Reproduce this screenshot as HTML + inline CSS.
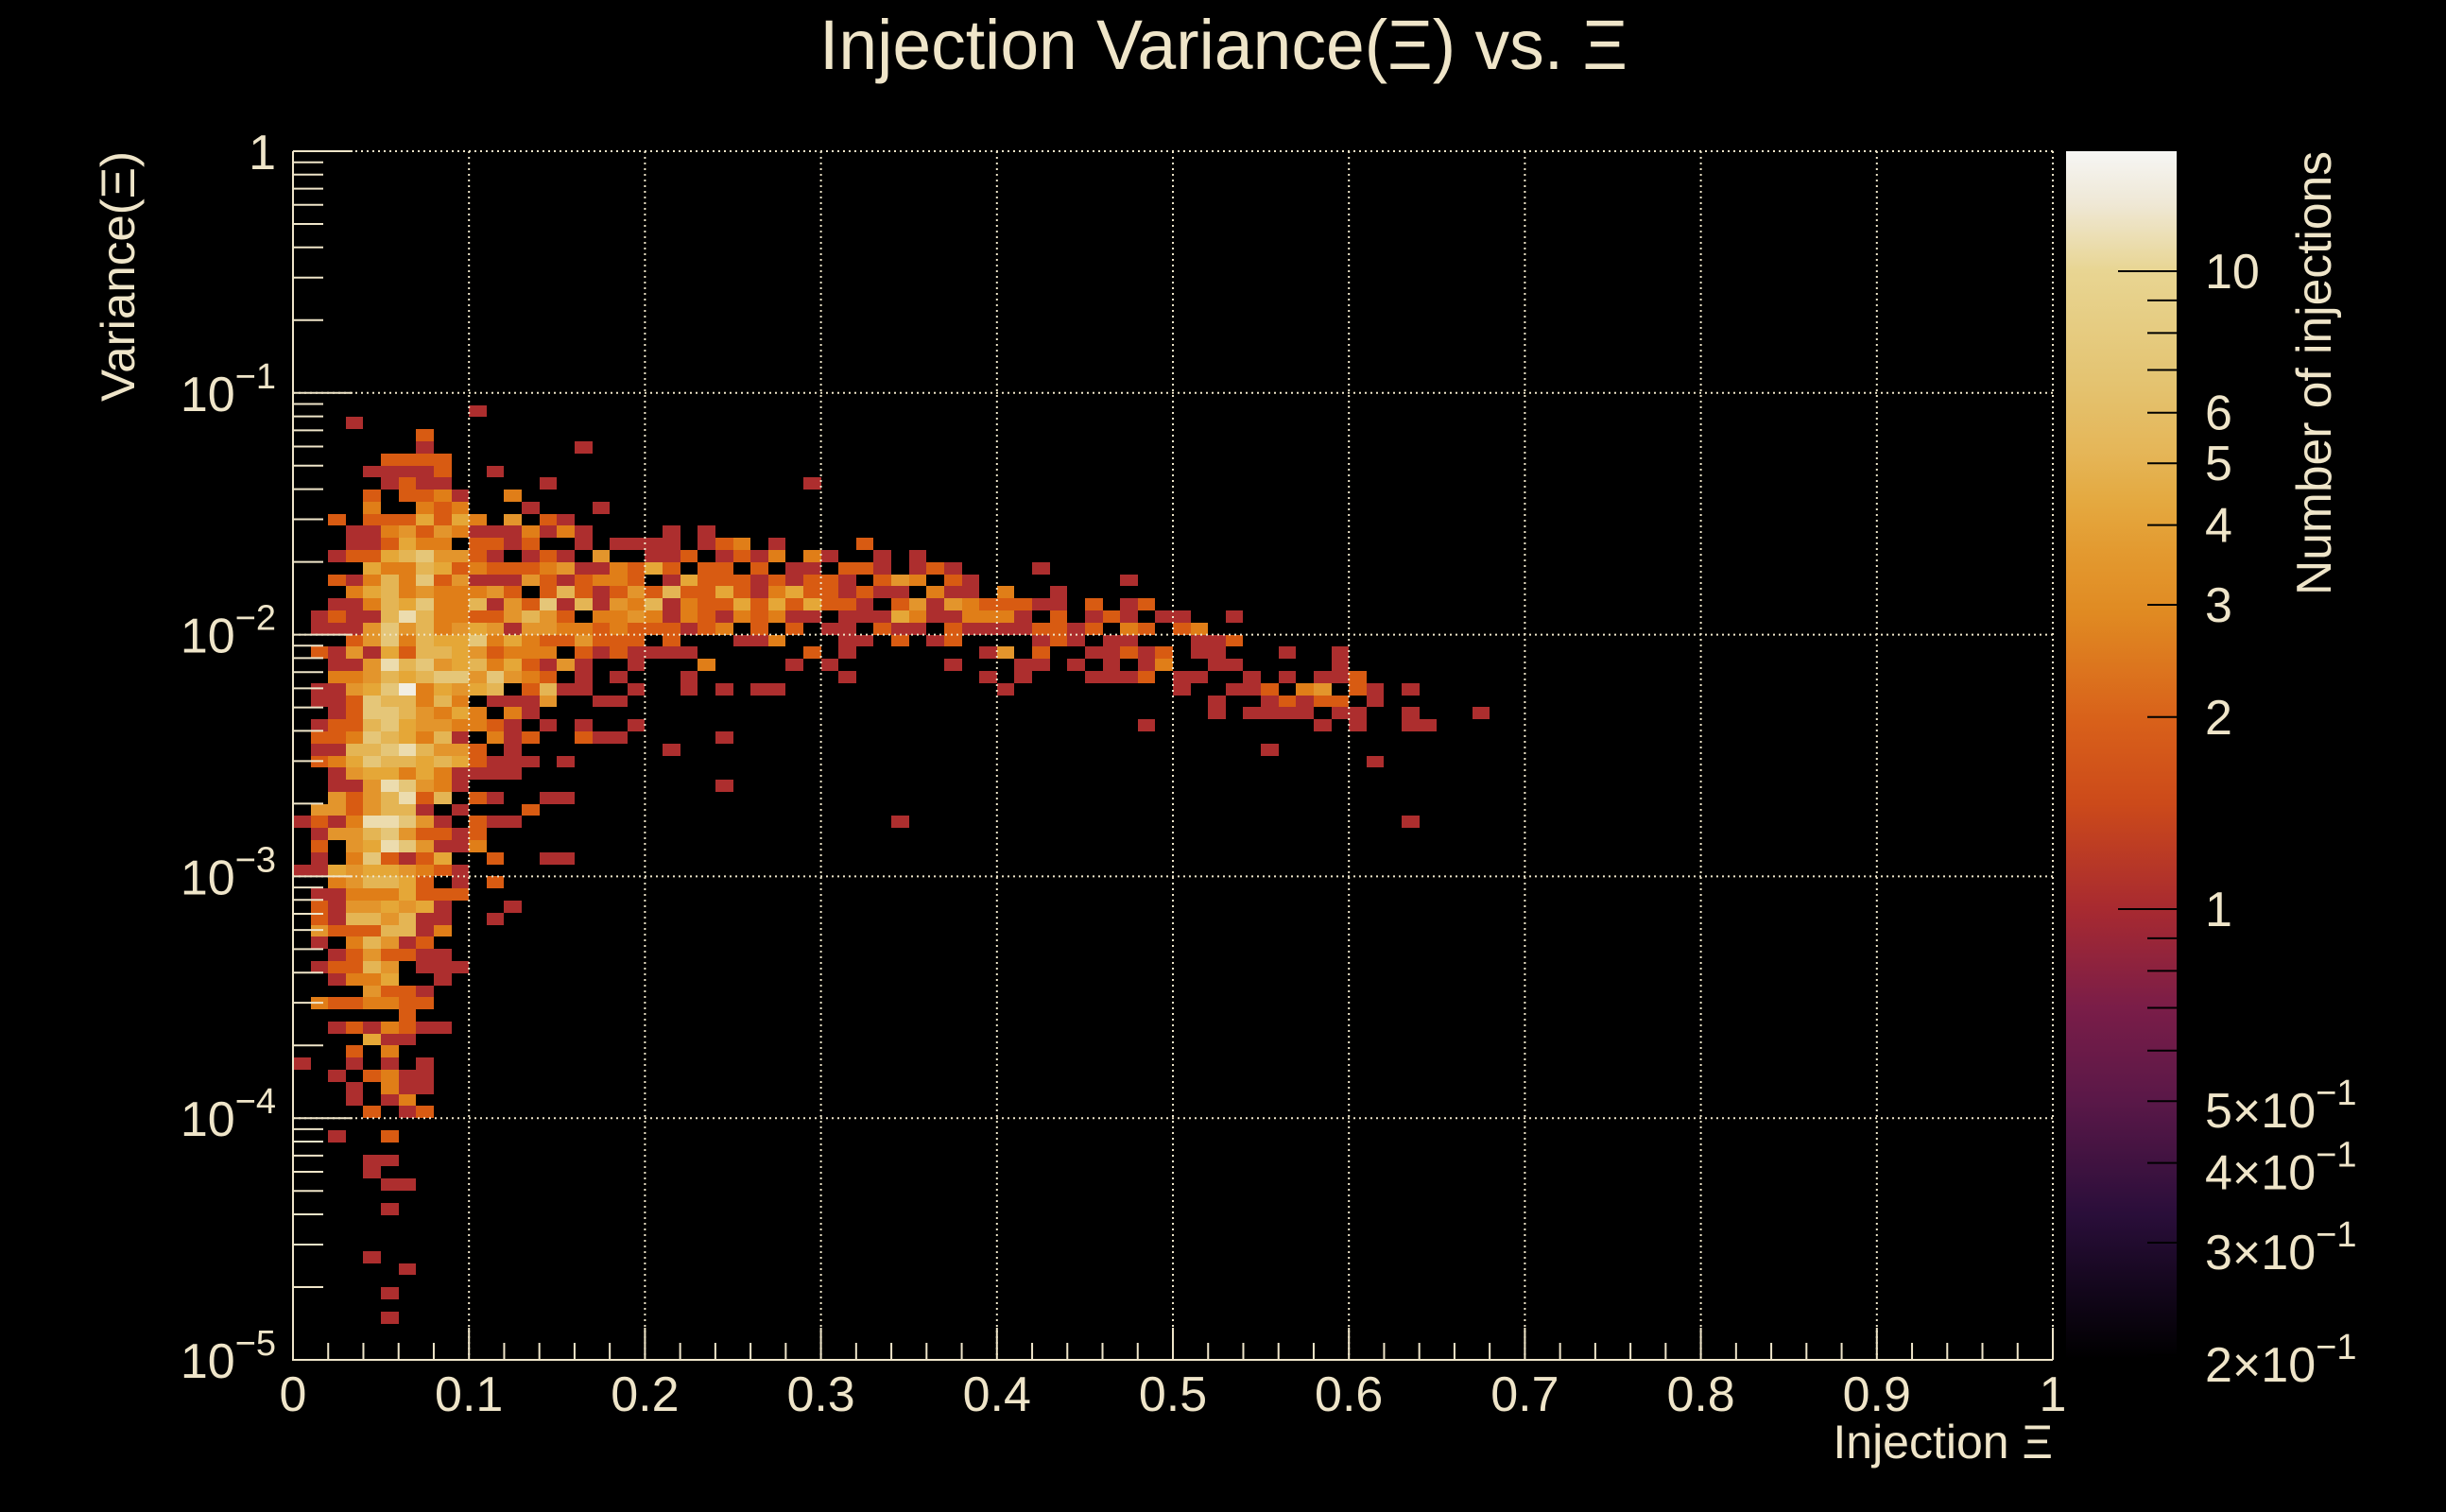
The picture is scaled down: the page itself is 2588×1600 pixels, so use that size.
<!DOCTYPE html>
<html><head><meta charset="utf-8"><style>
html,body{margin:0;padding:0;background:#000;}
svg{display:block;}
text{font-family:"Liberation Sans",sans-serif;fill:#efe5c9;}
</style></head><body>
<svg id="s" width="2588" height="1600" viewBox="0 0 2588 1600" xmlns="http://www.w3.org/2000/svg">
<defs>
<linearGradient id="cb" x1="0" y1="0" x2="0" y2="1">
<stop offset="0" stop-color="#f6f6f4"/>
<stop offset="0.043" stop-color="#efe8d6"/>
<stop offset="0.0994" stop-color="#e8d592"/>
<stop offset="0.188" stop-color="#e4c472"/>
<stop offset="0.249" stop-color="#e5b658"/>
<stop offset="0.29" stop-color="#e4a940"/>
<stop offset="0.331" stop-color="#e39a30"/>
<stop offset="0.383" stop-color="#e08a22"/>
<stop offset="0.473" stop-color="#d8601a"/>
<stop offset="0.54" stop-color="#cc4a1a"/>
<stop offset="0.627" stop-color="#a82a30"/>
<stop offset="0.709" stop-color="#7a1d48"/>
<stop offset="0.786" stop-color="#5a1848"/>
<stop offset="0.88" stop-color="#2a0e3a"/>
<stop offset="0.946" stop-color="#12061a"/>
<stop offset="1" stop-color="#000000"/>
</linearGradient>
</defs>
<rect width="2588" height="1600" fill="#000"/>
<g id="cells" shape-rendering="crispEdges"></g>
<g id="axes"></g>
<rect x="2186" y="160" width="117" height="1278" fill="url(#cb)"/>
<g id="cbt"></g>
<text x="867" y="73" font-size="74" textLength="855" lengthAdjust="spacingAndGlyphs">Injection Variance(Ξ) vs. Ξ</text>
<text transform="translate(142,160) rotate(-90)" text-anchor="end" font-size="50" textLength="265" lengthAdjust="spacingAndGlyphs">Variance(Ξ)</text>
<text x="2172" y="1543" text-anchor="end" font-size="50">Injection Ξ</text>
<text transform="translate(2466,160) rotate(-90)" text-anchor="end" font-size="52" textLength="470" lengthAdjust="spacingAndGlyphs">Number of injections</text>
</svg>
<script>
var NS="http://www.w3.org/2000/svg";
function el(p,t,a,txt){var e=document.createElementNS(NS,t);for(var k in a)e.setAttribute(k,a[k]);if(txt!==undefined)e.textContent=txt;p.appendChild(e);return e;}
var C={a:"#ad2e2e",b:"#d85b12",c:"#e07e18",d:"#e3952c",e:"#e5a737",f:"#e4b554",g:"#e5c678",h:"#ecdcae",i:"#f2eee2"};
var R={
21:"10a",22:"3a",23:"7b",24:"7a 16a",25:"5-8b",26:"4-7a 8b 11a",27:"5a 6b 7-8a 14a 29a",
28:"4b 6-7b 8c 9a 12c",29:"4c 7c 8b 9c 13a 17a",
30:"2b 4-6b 7e 8b 9e 10c 12d 14b 15a",
31:"3-4a 5c 6d 7b 8d 9c 10-12a 13c 14a 15c 16a 21a 23a",
32:"3-4a 5b 6e 7-8c 10-11b 12a 13b 16a 18-20a 21a 23a 24b 25c 27a 32b",
33:"2a 3-4b 5e 6f 7g 8-9d 10b 11a 13a 14b 15a 17d 20a 21a 22b 24a 25b 26a 27c 29c 30a 33a 35a",
34:"4e 5-6c 7f 8e 9b 10c 11-13b 14c 15d 16-17a 18c 19b 20e 21b 23-24b 26b 28-29a 31-32b 33a 35a 36b 37a 42a",
35:"2b 3a 4c 5f 6c 7g 8b 9d 10-12a 13d 14b 15a 16b 17-18c 19b 21a 22e 23-25b 26a 27b 28a 29-30b 31a 33b 34d 35c 37b 38a 47a",
36:"3c 4e 5f 6c 7d 8-10c 11d 12b 14b 15f 16b 17a 18b 19d 20b 21f 22-23b 24e 25b 26a 27c 28e 29-30b 31a 32b 33-34a 36c 37-38a 40c 43a",
37:"2-3a 4c 5f 6e 7g 8-9c 10f 11a 12d 13b 14g 15a 16f 17a 18d 19c 20f 21a 22c 23-24b 25e 26b 27e 28b 29e 30-31b 32a 34b 35d 36a 37d 38c 39-41b 42-43a 45b 47a 48b",
38:"1a 2b 3-4a 5f 6h 7f 8-9c 10-11b 12d 13f 14d 15b 17-18c 19d 20c 21a 22c 23b 24a 25c 26b 27c 28-29a 31-33a 34e 35c 36-37a 38-40c 41a 43b 45a 46b 47a 49-50a 53a",
39:"1-3a 4d 5g 6d 7f 8c 9d 10e 11d 12a 13-14d 15-16c 17b 18c 19-21b 22a 23b 24c 26b 28b 30-31a 33b 34-35a 37b 38-41a 42-43b 44a 45b 47c 48b 50b 51c",
40:"3b 4d 5g 6c 7f 8-9e 10g 11c 12e 13c 14-15b 16d 17-19b 21b 25-26a 27c 31-32a 34b 36a 37b 42a 43b 44a 46-47a 51-52a 53b",
41:"1b 2a 3d 4a 5e 6b 7f 8f 9e 10d 11b 12-14c 16b 17a 18b 19-20a 21-22a 29b 31a 39a 40d 42b 45-46a 47b 48a 49b 51-52a 56a 59a",
42:"2-3a 4d 5h 6f 7g 8d 9e 10f 11c 12e 13b 14a 15d 16a 19a 23c 28a 30a 37a 41-42a 44a 46a 48a 49c 52-53a 59a",
43:"2-3c 4d 5f 6e 7f 8-9g 10d 11g 12d 13c 14b 16a 18a 22a 31a 39a 41a 45-47a 48b 50-51a 54a 56a 58-59a 60b",
44:"1-2a 3d 4e 5g 6i 7c 8e 9d 10e 11f 13b 14f 15-16a 19a 22a 24a 26-27a 40a 50a 53-54a 55b 57c 58d 60b 61a 63a",
45:"1-2a 3b 4g 5-6f 7c 8f 9c 11-13a 14d 17-18a 52a 55a 56b 57a 58-59b 61a",
46:"2a 3b 4-5g 6f 7d 8c 9e 10c 12c 13a 52a 54-57a 59-60a 63a 67a",
47:"1a 2-3b 4f 5g 6e 7-8d 9-10c 11b 12a 14a 16a 19a 48a 58a 60a 63-64a",
48:"1-2b 3c 4g 5f 6e 7c 8f 9a 11c 12a 13b 16b 17-18a 24a",
49:"1-2a 3-4f 5g 6h 7f 8-9d 10b 12a 21a 55a",
50:"1b 2c 3e 4g 5-6f 7e 8f 9e 10b 11-13a 15a 61a",
51:"2a 3d 4-5e 6c 7e 8c 9-12a",
52:"2-3a 4d 5h 6g 7d 8c 9a 24a",
53:"2d 3b 4d 5f 6h 7b 8f 10b 11a 14-15a",
54:"1-2d 3b 4d 5-6f 7a 9a 13b",
55:"0a 1b 2a 3c 4-5h 6g 7d 8a 10b 11-12a 34a 63a",
56:"1a 2-3d 4f 5g 6d 7-8b 9a 10b",
57:"1b 3d 4e 5h 6g 7d 8-9a 10c",
58:"1a 3c 4g 5b 6a 7b 8e 11b 14-15a",
59:"0-1a 2e 3d 4-5e 6d 7c 8b 9a",
60:"2c 3d 4-5f 6e 7b 9a 11b",
61:"1-2a 3-5c 6e 7-9b",
62:"1b 2a 3-4d 5e 6d 7e 8a 12a",
63:"1b 2a 3-4f 5d 6f 7-8a 11a",
64:"1d 2-4b 5-6f 7a 8c",
65:"1a 3c 4f 5d 6a 7b",
66:"2a 3b 4d 5-6b 7-8a",
67:"1a 2-3b 4f 5d 7-9a",
68:"2a 3-4c 5e 8a",
69:"4d 5-6b 7a",
70:"1c 2-3b 4-5c 6-7b",
71:"6b",
72:"2a 3b 4a 5c 6b 7-8a",
73:"4e 5-6a",
74:"3b 5c",
75:"0a 3a 5a 7a",
76:"2a 4b 5c 6-7a",
77:"3a 5c 6-7a",
78:"3a 5a 6c",
79:"4b 6a 7b",
81:"2a 5b",83:"4-5a",84:"4a",85:"5-6a",87:"5a",91:"4a",92:"6a",94:"5a",96:"5a"};
var cells=document.getElementById("cells");
var X0=310,CW=18.62,Y0=160,RH=12.79;
for(var j in R){R[j].split(" ").forEach(function(t){var m=t.match(/^(\d+)(?:-(\d+))?([a-i])$/);if(!m)return;var a=+m[1],b=m[2]?+m[2]:a;
var x0=Math.round(X0+a*CW),x1=Math.round(X0+(b+1)*CW),y0=Math.round(Y0+j*RH),y1=Math.round(Y0+(+j+1)*RH);
el(cells,"rect",{x:x0,y:y0,width:x1-x0,height:y1-y0,fill:C[m[3]]});});}
var ax=document.getElementById("axes"),col="#efe5c9";
var L=310,Rt=2172,T=160,B=1439,H=B-T,W=Rt-L;
for(var i=1;i<10;i++){var x=L+W*i/10;el(ax,"line",{x1:x,y1:T,x2:x,y2:B,stroke:col,"stroke-width":2,"stroke-dasharray":"2 4"});}
for(var d=0;d<5;d++){var y=T+H*d/5;el(ax,"line",{x1:L,y1:y,x2:Rt,y2:y,stroke:col,"stroke-width":2,"stroke-dasharray":"2 4"});}
el(ax,"line",{x1:Rt,y1:T,x2:Rt,y2:B,stroke:col,"stroke-width":2,"stroke-dasharray":"2 4"});
el(ax,"line",{x1:L,y1:T,x2:L,y2:B+1,stroke:col,"stroke-width":2});
el(ax,"line",{x1:L-1,y1:B,x2:Rt,y2:B,stroke:col,"stroke-width":2});
for(var d=0;d<5;d++){var yb=B-H*d/5;el(ax,"line",{x1:L,y1:yb,x2:L+63,y2:yb,stroke:col,"stroke-width":2});
for(var m=2;m<10;m++){var y=yb-H/5*Math.log10(m);el(ax,"line",{x1:L,y1:y,x2:L+32,y2:y,stroke:col,"stroke-width":2});}}
el(ax,"line",{x1:L,y1:T,x2:L+63,y2:T,stroke:col,"stroke-width":2});
el(ax,"text",{x:292,y:179,"text-anchor":"end","font-size":52},"1");
for(var e=1;e<=5;e++){var y=T+H*e/5;var t=el(ax,"text",{x:292,y:y+19,"text-anchor":"end","font-size":52});
el(t,"tspan",{},"10");el(t,"tspan",{"font-size":38,dy:-24},"\u2212"+e);}
for(var i=0;i<=50;i++){var x=L+W*i/50;var len=(i%5==0)?34:18;el(ax,"line",{x1:x,y1:B,x2:x,y2:B-len,stroke:col,"stroke-width":2});}
var xl=["0","0.1","0.2","0.3","0.4","0.5","0.6","0.7","0.8","0.9","1"];
for(var i=0;i<=10;i++){el(ax,"text",{x:L+W*i/10,y:1493,"text-anchor":"middle","font-size":52},xl[i]);}
var cb=document.getElementById("cbt");
function cy(v){return 962-675*Math.log10(v);}
var vals=[0.2,0.3,0.4,0.5,0.6,0.7,0.8,0.9,1,2,3,4,5,6,7,8,9,10];
vals.forEach(function(v){var y=cy(v);var len=(v==1||v==10)?62:31;if(y<160||y>1438)return;el(cb,"line",{x1:2303-len,y1:y,x2:2303,y2:y,stroke:"#000","stroke-width":2});});
[[10,"10"],[6,"6"],[5,"5"],[4,"4"],[3,"3"],[2,"2"],[1,"1"]].forEach(function(p){el(cb,"text",{x:2333,y:cy(p[0])+18,"font-size":52},p[1]);});
[[0.5,"5"],[0.4,"4"],[0.3,"3"],[0.2,"2"]].forEach(function(p){var t=el(cb,"text",{x:2333,y:cy(p[0])+28,"font-size":52});el(t,"tspan",{},p[1]+"\u00d710");el(t,"tspan",{"font-size":38,dy:-24},"\u22121");});
</script>
</body></html>
